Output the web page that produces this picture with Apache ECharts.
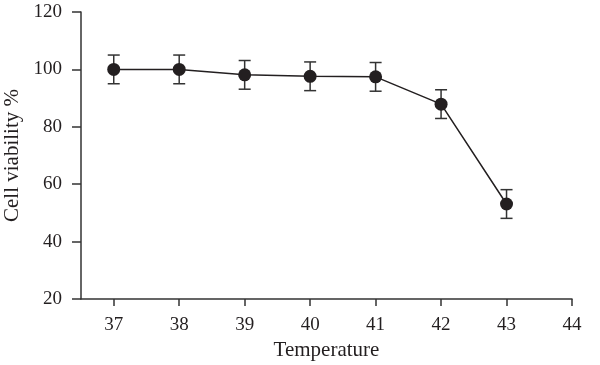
<!DOCTYPE html>
<html>
<head>
<meta charset="utf-8">
<script src="https://cdn.jsdelivr.net/npm/echarts@6/dist/echarts.min.js"></script>
<style>html,body{margin:0;padding:0;background:#fff}#c{width:600px;height:365px}</style>
</head>
<body>
<div id="c"></div>
<script>
const temperatures = [37, 38, 39, 40, 41, 42, 43];
const viability = [100, 100, 98.1, 97.6, 97.4, 87.9, 53.1];
const errors = [5, 5, 5, 5, 5, 5, 5];
const xTicks = [37, 38, 39, 40, 41, 42, 43, 44];

const FONT = '"Liberation Serif", "DejaVu Serif", serif';
const INK = '#231f20';

const chart = echarts.init(document.getElementById('c'), null, {renderer: 'canvas'});
const lineData = temperatures.map((t, i) => [t, viability[i]]);
const errData = temperatures.map((t, i) => [t, viability[i] - errors[i], viability[i] + errors[i]]);

chart.setOption({
  animation: false,
  grid: {left: 81, top: 12, right: 28, bottom: 66, containLabel: false, outerBoundsMode: 'none'},
  xAxis: {
    type: 'value', min: 36.5, max: 44,
    name: 'Temperature', nameLocation: 'middle', nameGap: 40,
    nameTextStyle: {fontFamily: FONT, fontSize: 21, color: INK},
    axisLine: {show: true, lineStyle: {color: '#333', width: 1.5}},
    axisTick: {show: true, length: 7, lineStyle: {color: '#333', width: 1.5}, customValues: xTicks},
    axisLabel: {fontFamily: FONT, fontSize: 19, color: INK, margin: 17, customValues: xTicks},
    splitLine: {show: false}
  },
  yAxis: {
    type: 'value', min: 20, max: 120, interval: 20,
    name: 'Cell viability %', nameLocation: 'middle', nameGap: 57,
    nameTextStyle: {fontFamily: FONT, fontSize: 21, color: INK},
    axisLine: {show: true, lineStyle: {color: '#333', width: 1.5}},
    axisTick: {show: true, length: 9, lineStyle: {color: '#333', width: 1.5}},
    axisLabel: {fontFamily: FONT, fontSize: 19, color: INK, margin: 19},
    splitLine: {show: false}
  },
  series: [
    {
      type: 'custom',
      data: errData,
      z: 1,
      renderItem: function (params, api) {
        const x = api.value(0);
        const lo = api.coord([x, api.value(1)]);
        const hi = api.coord([x, api.value(2)]);
        const hw = 6;
        const style = {stroke: '#333', lineWidth: 1.5};
        return {
          type: 'group',
          children: [
            {type: 'line', shape: {x1: lo[0], y1: lo[1], x2: hi[0], y2: hi[1]}, style},
            {type: 'line', shape: {x1: lo[0] - hw, y1: lo[1], x2: lo[0] + hw, y2: lo[1]}, style},
            {type: 'line', shape: {x1: hi[0] - hw, y1: hi[1], x2: hi[0] + hw, y2: hi[1]}, style}
          ]
        };
      }
    },
    {
      type: 'line',
      data: lineData,
      z: 2,
      symbol: 'circle',
      symbolSize: 13,
      lineStyle: {color: INK, width: 1.5},
      itemStyle: {color: INK}
    }
  ]
});
</script>
</body>
</html>
